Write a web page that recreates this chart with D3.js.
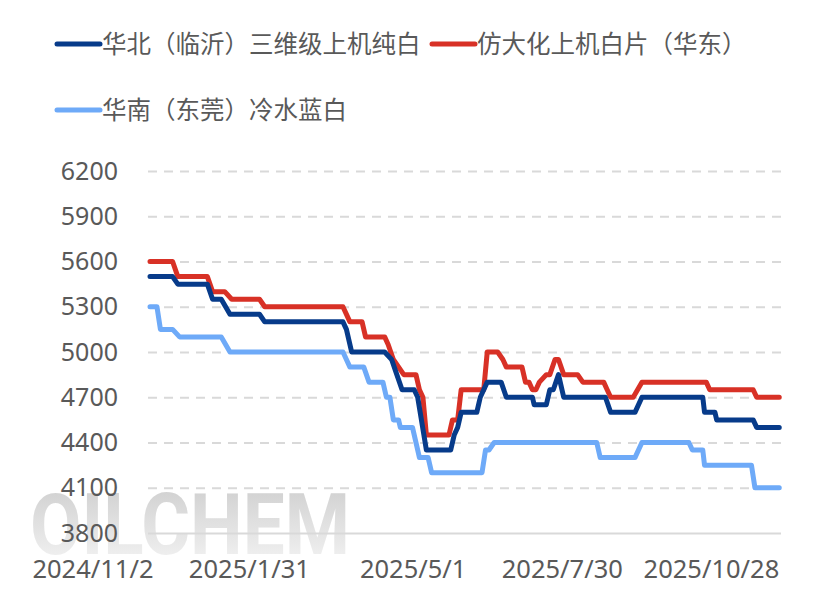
<!DOCTYPE html>
<html>
<head>
<meta charset="utf-8">
<script src="https://cdn.jsdelivr.net/npm/d3@7"></script>
<style>
  body { margin: 0; background: #fff; }
  svg { display: block; font-family: "Noto Sans", "Noto Sans CJK SC", sans-serif; }
</style>
</head>
<body>
<script>
// series (date, price)
var northData = [
  ["2024-11-02",5500],["2024-11-15",5500],["2024-11-18",5450],["2024-12-05",5450],
  ["2024-12-08",5350],["2024-12-13",5350],["2024-12-18",5250],["2025-01-04",5250],
  ["2025-01-07",5200],["2025-02-21",5200],["2025-02-23",5150],["2025-02-26",5000],
  ["2025-03-17",5000],["2025-03-21",4950],["2025-03-24",4850],["2025-03-27",4750],
  ["2025-04-03",4750],["2025-04-05",4700],["2025-04-10",4350],["2025-04-24",4350],
  ["2025-04-26",4450],["2025-04-28",4500],["2025-04-30",4600],["2025-05-09",4600],
  ["2025-05-11",4700],["2025-05-15",4800],["2025-05-23",4800],["2025-05-26",4700],
  ["2025-06-10",4700],["2025-06-11",4650],["2025-06-18",4650],["2025-06-20",4750],
  ["2025-06-22",4750],["2025-06-25",4850],["2025-06-28",4700],["2025-07-22",4700],
  ["2025-07-25",4600],["2025-08-08",4600],["2025-08-12",4700],["2025-09-16",4700],
  ["2025-09-17",4600],["2025-09-23",4600],["2025-09-24",4550],["2025-10-15",4550],
  ["2025-10-17",4500],["2025-10-30",4500]
];

var eastData = [
  ["2024-11-02",5600],["2024-11-15",5600],["2024-11-18",5500],["2024-12-05",5500],
  ["2024-12-08",5400],["2024-12-15",5400],["2024-12-19",5350],["2025-01-04",5350],
  ["2025-01-07",5300],["2025-02-21",5300],["2025-02-25",5200],["2025-03-04",5200],
  ["2025-03-06",5100],["2025-03-17",5100],["2025-03-19",5050],["2025-03-22",4950],
  ["2025-03-28",4850],["2025-04-04",4850],["2025-04-06",4750],["2025-04-08",4700],
  ["2025-04-10",4450],["2025-04-23",4450],["2025-04-25",4550],["2025-04-28",4550],
  ["2025-04-30",4750],["2025-05-13",4750],["2025-05-15",5000],["2025-05-21",5000],
  ["2025-05-24",4950],["2025-05-26",4900],["2025-06-04",4900],["2025-06-06",4800],
  ["2025-06-08",4800],["2025-06-10",4750],["2025-06-12",4750],["2025-06-14",4800],
  ["2025-06-18",4850],["2025-06-20",4850],["2025-06-23",4950],["2025-06-25",4950],
  ["2025-06-28",4850],["2025-07-06",4850],["2025-07-09",4800],["2025-07-21",4800],
  ["2025-07-23",4750],["2025-07-25",4700],["2025-08-07",4700],["2025-08-12",4800],
  ["2025-09-18",4800],["2025-09-20",4750],["2025-10-15",4750],["2025-10-17",4700],
  ["2025-10-30",4700]
];

var southData = [
  ["2024-11-02",5300],["2024-11-06",5300],["2024-11-08",5150],["2024-11-15",5150],
  ["2024-11-19",5100],["2024-12-13",5100],["2024-12-18",5000],["2025-02-21",5000],
  ["2025-02-25",4900],["2025-03-05",4900],["2025-03-08",4800],["2025-03-16",4800],
  ["2025-03-18",4700],["2025-03-20",4700],["2025-03-22",4550],["2025-03-25",4550],
  ["2025-03-26",4500],["2025-04-02",4500],["2025-04-06",4300],["2025-04-11",4300],
  ["2025-04-13",4200],["2025-05-12",4200],["2025-05-14",4350],["2025-05-16",4350],
  ["2025-05-19",4400],["2025-07-17",4400],["2025-07-19",4300],["2025-08-08",4300],
  ["2025-08-12",4400],["2025-09-08",4400],["2025-09-10",4350],["2025-09-16",4350],
  ["2025-09-17",4250],["2025-10-14",4250],["2025-10-16",4100],["2025-10-30",4100]
];

var seriesNames = ["华北（临沂）三维级上机纯白", "仿大化上机白片（华东）", "华南（东莞）冷水蓝白"];
var seriesColors = ["#073b8a", "#d83126", "#6eaaf8"];

var yTicks = [3800, 4100, 4400, 4700, 5000, 5300, 5600, 5900, 6200];
var xTickDates = ["2024-11-02", "2025-01-31", "2025-05-01", "2025-07-30", "2025-10-28"];
var xTickLabels = ["2024/11/2", "2025/1/31", "2025/5/1", "2025/7/30", "2025/10/28"];

var parseDate = d3.timeParse("%Y-%m-%d");

var width = 832;
var height = 591;

var svg = d3.select("body").append("svg").attr("width", width).attr("height", height);

var xScale = d3.scaleTime()
    .domain([parseDate("2024-11-02"), parseDate("2025-10-31")])
    .range([150, 781]);
var yScale = d3.scaleLinear().domain([3800, 6200]).range([533, 171]);

// OILCHEM watermark
var grad = svg.append("defs").append("linearGradient")
    .attr("id", "wmGrad").attr("x1", 0).attr("y1", 0).attr("x2", 0).attr("y2", 1);
grad.append("stop").attr("offset", "0%").attr("stop-color", "#cbcbcb");
grad.append("stop").attr("offset", "100%").attr("stop-color", "#f7f7f7");

svg.append("text")
    .attr("x", 30)
    .attr("y", 554)
    .attr("textLength", 320)
    .attr("lengthAdjust", "spacingAndGlyphs")
    .style("font-family", "Roboto, 'Noto Sans', sans-serif")
    .style("font-weight", "bold")
    .style("font-size", "86px")
    .style("fill", "url(#wmGrad)")
    .text("OILCHEM");

// gridlines
var grid = svg.append("g")
    .attr("transform", "translate(148,0)")
    .call(d3.axisRight(yScale).tickValues(yTicks).tickSize(633).tickFormat(""));
grid.select(".domain").remove();
grid.selectAll("line")
    .attr("stroke", "#d9d9d9")
    .attr("stroke-width", 2)
    .attr("stroke-dasharray", function(d){ return d == 3800 ? null : "9,7"; });

// y axis labels
var yAxis = svg.append("g")
    .attr("transform", "translate(118,0)")
    .call(d3.axisLeft(yScale).tickValues(yTicks).tickFormat(d3.format("d")).tickSize(0).tickPadding(0));
yAxis.select(".domain").remove();
yAxis.selectAll("text")
    .style("font-size", "25px")
    .style("fill", "#595959")
    .style("font-family", "'Noto Sans', sans-serif");

// x axis labels, right aligned on the tick
var xAxis = svg.append("g")
    .attr("transform", "translate(0,533)")
    .call(d3.axisBottom(xScale)
        .tickValues(xTickDates.map(parseDate))
        .tickFormat(function(d, i){ return xTickLabels[i]; })
        .tickSize(0).tickPadding(27));
xAxis.select(".domain").remove();
xAxis.selectAll("text")
    .style("text-anchor", "end")
    .attr("dx", 3)
    .style("font-size", "25.5px")
    .style("fill", "#595959")
    .style("font-family", "'Noto Sans', sans-serif");

// lines
var line = d3.line()
    .x(function(d){ return xScale(parseDate(d[0])); })
    .y(function(d){ return yScale(d[1]); });

// draw south first so the darker lines sit on top
var allSeries = [southData, eastData, northData];
var allColors = [seriesColors[2], seriesColors[1], seriesColors[0]];
allSeries.forEach(function(s, i){
    svg.append("path")
        .datum(s)
        .attr("d", line)
        .attr("fill", "none")
        .attr("stroke", allColors[i])
        .attr("stroke-width", 5)
        .attr("stroke-linejoin", "round")
        .attr("stroke-linecap", "round");
});

// legend
var legendPos = [[57, 44], [432, 44], [57, 110]];
seriesNames.forEach(function(name, i){
    var g = svg.append("g").attr("transform", "translate(" + legendPos[i][0] + "," + legendPos[i][1] + ")");
    g.append("line")
        .attr("x1", 0).attr("x2", 43).attr("y1", 0).attr("y2", 0)
        .attr("stroke", seriesColors[i])
        .attr("stroke-width", 5)
        .attr("stroke-linecap", "round");
    g.append("text")
        .attr("x", 45)
        .attr("y", 0)
        .attr("dy", "0.35em")
        .style("font-family", "'Noto Sans CJK SC', sans-serif")
        .style("font-size", "24.5px")
        .style("fill", "#595959")
        .text(name);
});
</script>
</body>
</html>
